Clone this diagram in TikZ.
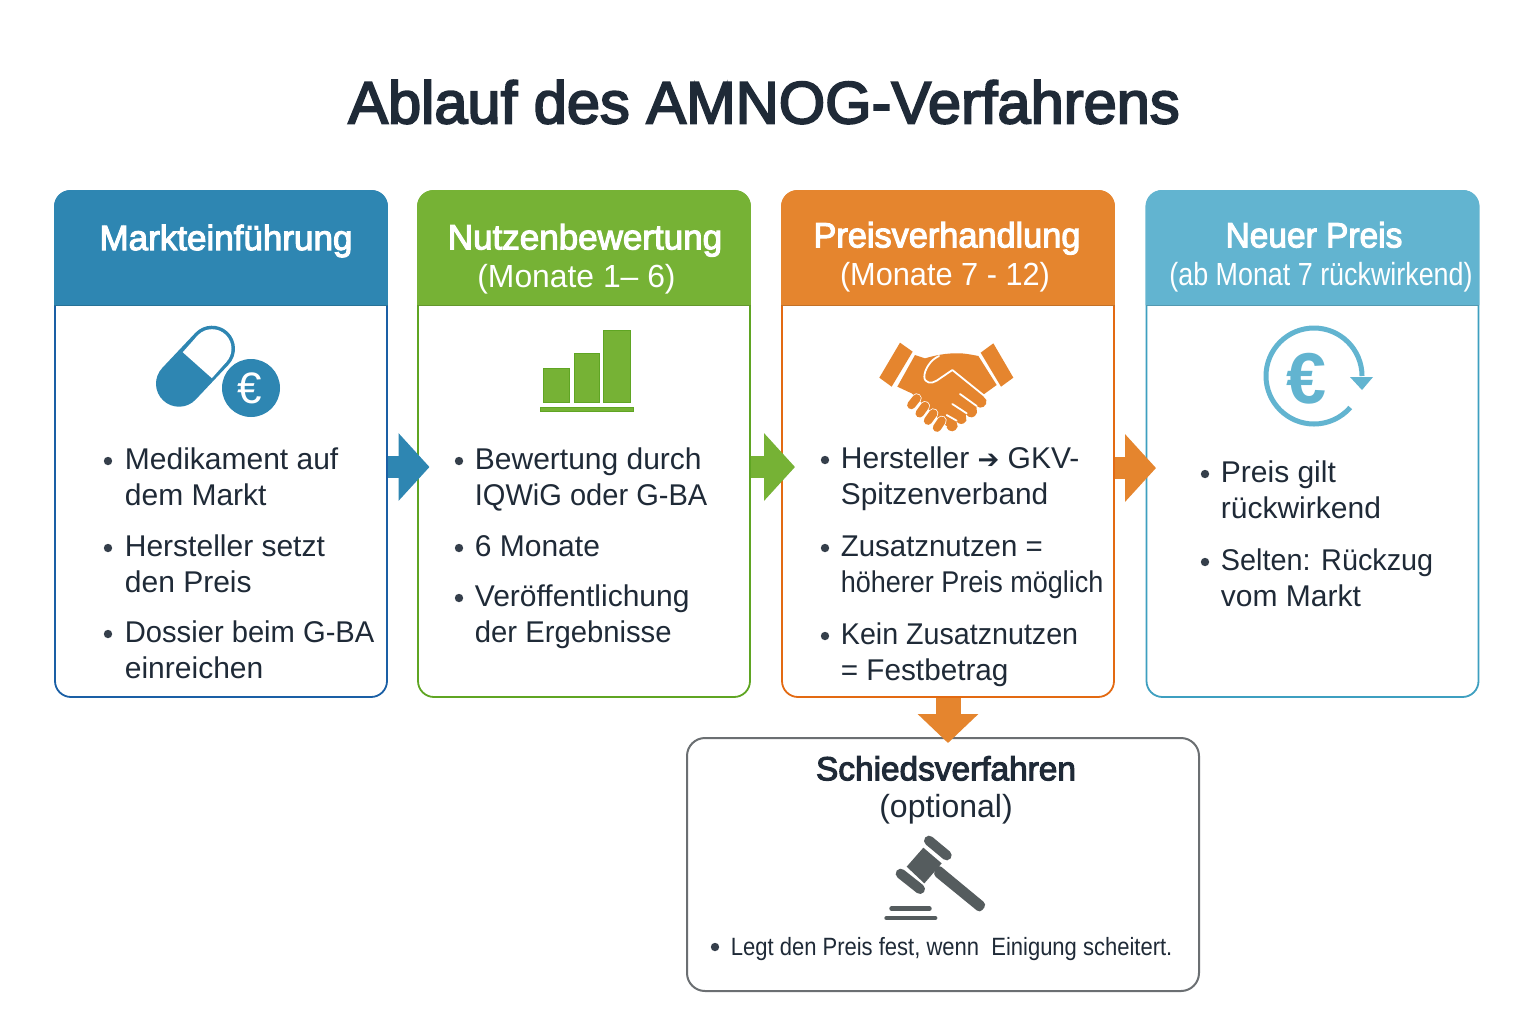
\documentclass[tikz,border=0pt]{standalone}
\usepackage{fontspec}
\setmainfont{Liberation Sans}
\newfontfamily\dejavu{DejaVu Sans}
\newfontfamily\medfont[FakeBold=3.2]{Liberation Sans}
\usetikzlibrary{arrows.meta}
\definecolor{cblue}{HTML}{2E86B2}
\definecolor{bblue}{HTML}{1A5FA5}
\definecolor{cgreen}{HTML}{76B235}
\definecolor{bgreen}{HTML}{5FA523}
\definecolor{corange}{HTML}{E5852E}
\definecolor{borange}{HTML}{E36A12}
\definecolor{clight}{HTML}{62B4D0}
\definecolor{blight}{HTML}{3E9FC0}
\definecolor{ink}{HTML}{1F2A37}
\definecolor{gavel}{HTML}{555C5E}
\definecolor{boxline}{HTML}{6B6F72}
\tikzset{
  x=0.5pt,y=-0.5pt,
  cardbox/.style={draw=#1,line width=0.9pt,fill=white,rounded corners=8pt,minimum width=166pt,minimum height=253pt,inner sep=0pt},
  headtext/.style={text=white,align=center,font=\fontsize{17.5}{19}\selectfont},
  bodytext/.style={anchor=north west,align=left,text=ink,inner sep=0pt,font=\fontsize{15}{18}\selectfont},
  dot/.style={fill=ink!90,draw=none},
  blockarrow/.style={draw=#1,line width=11pt,-{Triangle[length=15.5pt,width=33pt,fill=#1]}},
  downarrow/.style={draw=#1,line width=12.5pt,-{Triangle[length=14.5pt,width=29.5pt,fill=#1]}},
}
\newcommand{\headerfill}[3]{% node name, colour, bottom y
  \fill[#2] (#1.north west |- 0,#3) [rounded corners=8pt] -- (#1.north west) -- (#1.north east) [sharp corners] -- (#1.north east |- 0,#3) -- cycle;
  \draw[#2!85!black,line width=0.5pt] (#1.north west |- 0,#3) -- (#1.north east |- 0,#3);
}
% name, bullet x, text x, first baseline, text
\newcommand{\bulletitem}[5]{%
  \node[bodytext] (#1) at (#3-0.5,#4-25.6) {\strut #5\strut};
  \fill[dot] (#2,#4-8) circle[radius=4.2];
}
\newcommand{\sq}[2]{\scalebox{#1}[1]{#2}}
\begin{document}
\begin{tikzpicture}
\useasboundingbox (0,0) rectangle (1536,1024);
\fill[white] (0,0) rectangle (1536,1024);
\node[text=ink,font=\medfont\fontsize{29.8}{34}\selectfont,inner sep=0pt] (title) at (764,102) {Ablauf des AMNOG-Verfahrens};

% cards
\node[cardbox=bblue] (c1) at (221,444) {};
\node[cardbox=bgreen] (c2) at (584,444) {};
\node[cardbox=borange] (c3) at (948,444) {};
\node[cardbox=blight] (c4) at (1312.5,444) {};
\node[draw=boxline,line width=1pt,fill=white,rounded corners=9pt,minimum width=256pt,minimum height=126.5pt,inner sep=0pt] (c5) at (943,864.5) {};
\headerfill{c1}{cblue}{305}
\headerfill{c2}{cgreen}{305}
\headerfill{c3}{corange}{305}
\headerfill{c4}{clight}{305}

% headers
\node[headtext,font=\medfont\fontsize{17.5}{19}\selectfont] (h1) at (226,241) {Markteinführung};
\node[headtext] (h2) at (585,259) {{\medfont Nutzenbewertung}\\{\fontsize{16}{19}\selectfont\sq{0.995}{(Monate 1– 6)}\hspace*{8.5pt}}};
\node[headtext] (h3) at (947,257) {{\medfont\sq{0.98}{Preisverhandlung}}\\{\fontsize{16}{19}\selectfont\sq{0.96}{(Monate 7 - 12)}\hspace*{2pt}}};
\node[headtext] (h4) at (1321,257) {{\medfont\sq{0.957}{Neuer Preis}\hspace*{7pt}}\\{\fontsize{16}{19}\selectfont\sq{0.84}{(ab Monat 7 rückwirkend)}}};

% connectors
\coordinate (t1) at (429.5,467);
\coordinate (t2) at (795,467);
\coordinate (t3) at (1156,468);
\coordinate (t4) at (948,743);
\draw[blockarrow=cblue] (c1.east |- t1) -- (t1);
\draw[blockarrow=cgreen] (c2.east |- t2) -- (t2);
\draw[blockarrow=corange] (c3.east |- t3) -- (t3);
\draw[downarrow=corange] (c3.south) -- (t4);

% card 1 icon: pill + euro
\draw[cblue,line width=23pt,line cap=round] (179,383.7) -- (212,348.7);
\draw[white,line width=19.5pt,line cap=round] (212,348.7) -- (211.9,348.8);
\draw[white,line width=19.5pt] (212,348.7) -- (197.3,365.2);
\fill[cblue] (251,388) circle[radius=29];
\node[text=white,inner sep=0pt,font=\fontsize{22}{22}\selectfont] (e1) at (250,388) {€};

% card 2 icon: bars
\fill[cgreen,draw=bgreen,line width=0.5pt] (543,368) rectangle (569,402);
\fill[cgreen,draw=bgreen,line width=0.5pt] (574,353) rectangle (599,402);
\fill[cgreen,draw=bgreen,line width=0.5pt] (603,330) rectangle (630,402);
\fill[cgreen,draw=bgreen,line width=0.5pt] (540,407) rectangle (633,411);

% card 3 icon: handshake
\begin{scope}[shift={(865,330)},x=0.16667pt,y=-0.16667pt]
  \fill[corange] (105,38) -- (143,65) -- (80,170) -- (43,143) -- cycle;
  \fill[corange] (385,40) -- (347,68) -- (408,170) -- (445,143) -- cycle;
  \fill[corange] (150,75) -- (180,85) .. controls (205,78) and (240,68) .. (290,70)
     .. controls (310,72) and (325,75) .. (340,78) -- (395,165) -- (352,196)
     -- (364,210) .. controls (368,228) and (348,240) .. (334,228)
     -- (336,248) .. controls (330,266) and (312,266) .. (302,252)
     -- (304,272) .. controls (296,286) and (282,284) .. (274,274)
     -- (278,290) .. controls (272,308) and (252,308) .. (244,292)
     -- (140,190) -- (97,170) -- cycle;
  \draw[white,line width=0.9pt,line cap=round,line join=round] (222,78) .. controls (195,90) and (178,120) .. (178,140) .. controls (178,160) and (200,162) .. (215,152) -- (262,120) -- (355,195);
  \draw[white,line width=0.9pt,line cap=round] (285,192) -- (335,228);
  \draw[white,line width=0.9pt,line cap=round] (262,222) -- (305,250);
  \draw[white,line width=0.9pt,line cap=round] (245,255) -- (275,272);
  \draw[white,line width=0.7pt] (135,190) -- (245,292);
  \foreach \a/\b/\c/\d in {155/205/139/225, 180/228/164/250, 205/250/189/272, 230/272/216/293}{
    \draw[white,line width=5pt,line cap=round] (\a,\b) -- (\c,\d);
    \draw[corange,line width=4.2pt,line cap=round] (\a,\b) -- (\c,\d);
  }
\end{scope}

% card 4 icon: euro with arrow
\draw[clight,line width=2.5pt] (1362,376) arc[start angle=0,end angle=-319,radius=48];
\fill[clight] (1350,377) -- (1373,377) -- (1362,390) -- cycle;
\node[text=clight,inner sep=0pt,font=\bfseries\fontsize{36}{36}\selectfont] (e4) at (1307,379) {€};

% gavel
\begin{scope}[shift={(870,825)},x=0.16667pt,y=-0.16667pt]
  \fill[gavel,rounded corners=2pt] (205,118) -- (350,238) -- (330,264) -- (188,148) -- cycle;
  \fill[gavel] (160,68) -- (215,115) -- (163,175) -- (110,125) -- cycle;
  \draw[gavel,line width=5pt,line cap=round] (177,47) -- (230,91);
  \draw[gavel,line width=5pt,line cap=round] (92,146) -- (150,192);
  \draw[gavel,line width=2.4pt,line cap=round] (65,251) -- (178,251);
  \draw[gavel,line width=2.4pt,line cap=round] (50,279) -- (195,279);
\end{scope}

% body text
\bulletitem{a1}{108}{125}{469}{Medikament auf\\dem Markt}
\bulletitem{a2}{108}{125}{556}{Hersteller setzt\\den Preis}
\bulletitem{a3}{108}{125}{642}{\sq{0.972}{Dossier beim G-BA}\\einreichen}
\bulletitem{b1}{459}{475}{469}{Bewertung durch\\\sq{0.968}{IQWiG oder G-BA}}
\bulletitem{b2}{459}{475}{556}{6 Monate}
\bulletitem{b3}{459}{475}{606}{Veröffentlichung\\\sq{0.975}{der Ergebnisse}}
\bulletitem{d1}{825}{841}{468}{Hersteller {\dejavu\fontsize{13}{13}\selectfont ➔} GKV-\\\sq{0.995}{Spitzenverband}}
\bulletitem{d2}{825}{841}{556}{\sq{0.98}{Zusatznutzen =}\\\sq{0.90}{höherer Preis möglich}}
\bulletitem{d3}{825}{841}{644}{\sq{0.955}{Kein Zusatznutzen}\\\sq{0.99}{= Festbetrag}}
\bulletitem{f1}{1205}{1221}{482}{Preis gilt\\rückwirkend}
\bulletitem{f2}{1205}{1221}{570}{\sq{0.96}{Selten: Rückzug}\\vom Markt}

% arbitration box
\node[text=ink,align=center,inner sep=0pt,font=\fontsize{16}{18.5}\selectfont] (s1) at (946,790) {{\medfont\fontsize{16.7}{18.5}\selectfont Schiedsverfahren}\\(optional)};
\bulletitem{s2}{715}{731}{955}{\fontsize{12.5}{15}\selectfont\sq{0.88}{Legt den Preis fest, wenn\ \ Einigung scheitert.}}
\end{tikzpicture}
\end{document}
